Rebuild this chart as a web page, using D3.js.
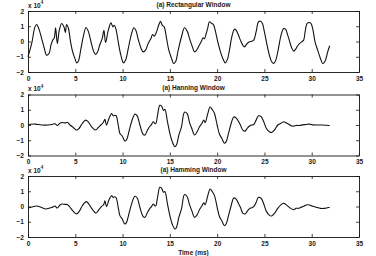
<!DOCTYPE html>
<html>
<head>
<meta charset="utf-8">
<script src="https://cdn.jsdelivr.net/npm/d3@7"></script>
<style>
  body { margin: 0; background: #fff; }
  svg text { font-family: "Liberation Sans", Arial, sans-serif; fill: #1a1a1a; font-weight: bold; }
</style>
</head>
<body>
<svg width="376" height="256"></svg>
<script>
// panel titles, axis ticks
const titles = ["(a) Rectangular Window", "(a) Hanning Window", "(a) Hamming Window"];
const xTicks = [0, 5, 10, 15, 20, 25, 30, 35];
const yTicks = [-2, -1, 0, 1, 2];
const xLabel = "Time (ms)";
const scaleExp = "4";

// [time in ms, amplitude / 1e4]
const rectangular = [
  [0, -1.0], [0.39, -0.13], [0.74, 0.96], [0.92, 1.11], [1.16, 0.81], [1.44, 0.2],
  [1.73, -0.46], [1.97, -0.9], [2.22, -0.79], [2.43, -0.24], [2.61, 0.09], [2.78, 0.24],
  [2.92, 0.9], [3.1, -0.13], [3.31, 0.74], [3.56, 1.18], [3.8, 0.96], [3.95, 0.6],
  [4.08, 1.11], [4.26, 0.9], [4.5, -0.02], [4.72, -0.68], [4.96, -1.11], [5.14, -1.4],
  [5.32, -1.29], [5.6, -0.46], [5.88, 0.42], [6.13, 0.92], [6.37, 0.68], [6.62, 0.09],
  [6.9, -0.57], [7.15, -0.85], [7.36, -0.68], [7.6, -0.2], [7.85, 0.2], [8.03, 0.74],
  [8.2, -0.07], [8.49, 0.74], [8.77, 1.22], [8.98, 0.96], [9.12, 1.07], [9.3, 0.81],
  [9.54, -0.02], [9.82, -0.9], [10.1, -1.4], [10.32, -1.22], [10.6, -0.46], [10.95, 0.52],
  [11.2, 0.9], [11.4, 0.74], [11.65, 0.15], [11.94, -0.42], [12.18, -0.68], [12.43, -0.57],
  [12.71, -0.13], [13.0, 0.2], [13.17, 0.46], [13.35, 0.35], [13.59, 0.63], [13.84, 1.11],
  [14.01, 1.33], [14.19, 1.07], [14.4, 0.96], [14.65, 0.2], [14.89, -0.57], [15.18, -1.11],
  [15.39, -1.44], [15.6, -1.33], [15.88, -0.57], [16.23, 0.31], [16.55, 0.9], [16.83, 0.68],
  [17.08, 0.2], [17.32, -0.24], [17.61, -0.68], [17.78, -0.61], [18.03, -0.35], [18.31, -0.02],
  [18.52, 0.24], [18.66, 0.18], [18.84, 0.52], [19.01, 0.9], [19.19, 1.29], [19.44, 1.18],
  [19.61, 1.11], [19.79, 0.74], [20.07, -0.02], [20.35, -0.68], [20.6, -1.11], [20.85, -1.4],
  [21.06, -1.22], [21.3, -0.57], [21.55, 0.31], [21.83, 0.81], [22.0, 0.74], [22.25, 0.42],
  [22.46, 0.09], [22.71, -0.24], [22.89, -0.35], [23.17, -0.13], [23.42, -0.02], [23.66, 0.02],
  [23.87, 0.09], [24.12, 0.63], [24.37, 1.29], [24.58, 1.33], [24.79, 1.18], [25.0, 0.63],
  [25.28, -0.24], [25.53, -0.9], [25.77, -1.33], [25.99, -1.44], [26.2, -1.22], [26.48, -0.46],
  [26.76, 0.42], [27.04, 0.85], [27.25, 0.79], [27.46, 0.42], [27.68, -0.02], [27.89, -0.42],
  [28.1, -0.63], [28.35, -0.46], [28.52, -0.28], [28.73, -0.13], [28.94, -0.02], [29.15, 0.09],
  [29.3, 0.63], [29.51, 1.18], [29.75, 1.25], [29.93, 1.18], [30.14, 0.74], [30.35, -0.02],
  [30.63, -0.57], [30.92, -1.11], [31.16, -1.44], [31.41, -1.29], [31.69, -0.68], [31.9, -0.28]
];

const hanning = [
  [0, 0.03], [0.74, 0.06], [1.44, 0], [2.15, 0], [2.5, 0.03], [2.85, 0.08], [3.1, -0.03],
  [3.38, 0.12], [3.63, 0.16], [3.9, 0.14], [4.19, 0.16], [4.44, 0], [4.79, -0.16], [5.14, -0.33],
  [5.39, -0.23], [5.74, 0.1], [6.09, 0.32], [6.37, 0.21], [6.73, -0.12], [7.15, -0.33],
  [7.43, -0.16], [7.71, 0], [7.96, 0.16], [8.13, 0.38], [8.3, 0], [8.56, 0.42], [8.84, 0.75],
  [9.0, 0.6], [9.19, 0.64], [9.33, 0.6], [9.54, 0], [9.72, -0.55], [9.96, -0.72], [10.25, -1.05],
  [10.42, -0.98], [10.67, -0.44], [10.95, 0.21], [11.3, 0.71], [11.55, 0.6], [11.83, 0],
  [12.18, -0.61], [12.36, -0.66], [12.64, -0.33], [12.89, -0.08], [13.06, 0.03], [13.24, 0.21],
  [13.49, 0.08], [13.7, 0.64], [13.94, 1.29], [14.12, 1.25], [14.33, 0.96], [14.47, 1.03],
  [14.75, 0.21], [15.0, -0.55], [15.25, -1.09], [15.53, -1.42], [15.7, -1.31], [15.95, -0.66],
  [16.23, -0.12], [16.55, 0.84], [16.83, 0.75], [17.08, 0.16], [17.32, -0.23], [17.61, -0.66],
  [17.89, -0.44], [18.13, -0.12], [18.38, 0.1], [18.59, 0.32], [18.73, 0.16], [19.01, 0.75],
  [19.26, 1.18], [19.47, 1.03], [19.72, 0.75], [20.0, 0], [20.25, -0.61], [20.49, -0.87],
  [20.77, -1.2], [20.95, -1.09], [21.2, -0.55], [21.48, 0.1], [21.76, 0.53], [22.0, 0.47],
  [22.25, 0.25], [22.46, 0], [22.71, -0.33], [22.96, -0.4], [23.17, -0.23], [23.42, -0.07],
  [23.66, 0], [23.87, 0.03], [24.12, 0.32], [24.37, 0.6], [24.65, 0.55], [24.93, 0.21],
  [25.21, -0.23], [25.53, -0.44], [25.77, -0.49], [26.06, -0.33], [26.41, 0], [26.76, 0.12],
  [27.04, 0.21], [27.29, 0.14], [27.54, 0.06], [27.82, -0.05], [28.1, -0.07], [28.35, -0.03],
  [28.7, -0.03], [29.05, 0.01], [29.4, 0.03], [29.75, 0.06], [30.11, 0.01], [30.63, 0],
  [31.16, 0], [31.9, -0.03]
];

const hamming = [
  [0, -0.1], [0.39, -0.03], [0.92, 0.03], [1.37, -0.05], [1.87, -0.16], [2.22, -0.12],
  [2.57, -0.05], [2.85, 0.03], [3.1, -0.1], [3.38, 0.1], [3.63, 0.16], [3.9, 0.14], [4.19, 0.12],
  [4.44, -0.05], [4.79, -0.32], [5.14, -0.49], [5.42, -0.32], [5.74, 0.05], [6.16, 0.32],
  [6.44, 0.16], [6.73, -0.12], [7.18, -0.43], [7.5, -0.21], [7.78, 0.01], [8.0, 0.12],
  [8.13, 0.38], [8.3, -0.01], [8.56, 0.43], [8.84, 0.71], [9.0, 0.6], [9.19, 0.64], [9.33, 0.56],
  [9.54, -0.05], [9.72, -0.6], [9.96, -0.82], [10.25, -1.15], [10.42, -1.04], [10.67, -0.49],
  [10.95, 0.16], [11.3, 0.67], [11.55, 0.56], [11.83, -0.05], [12.18, -0.67], [12.36, -0.71],
  [12.64, -0.38], [12.89, -0.12], [13.06, -0.01], [13.24, 0.16], [13.49, 0.03], [13.7, 0.6],
  [13.94, 1.26], [14.12, 1.21], [14.33, 0.93], [14.47, 0.98], [14.75, 0.16], [15.0, -0.6],
  [15.25, -1.15], [15.53, -1.48], [15.7, -1.37], [15.95, -0.71], [16.23, -0.16], [16.55, 0.78],
  [16.83, 0.64], [17.08, 0.12], [17.32, -0.27], [17.61, -0.71], [17.89, -0.54], [18.13, -0.21],
  [18.38, 0.03], [18.59, 0.25], [18.73, 0.12], [19.01, 0.71], [19.26, 1.15], [19.47, 0.99],
  [19.72, 0.71], [20.0, -0.05], [20.25, -0.67], [20.49, -0.93], [20.77, -1.26], [20.95, -1.15],
  [21.2, -0.6], [21.48, 0.05], [21.76, 0.56], [22.0, 0.49], [22.25, 0.21], [22.46, -0.05],
  [22.71, -0.43], [22.96, -0.49], [23.17, -0.32], [23.42, -0.14], [23.66, -0.08], [23.87, -0.01],
  [24.12, 0.27], [24.37, 0.6], [24.65, 0.54], [24.93, 0.16], [25.21, -0.32], [25.53, -0.58],
  [25.77, -0.62], [26.06, -0.45], [26.41, -0.12], [26.76, 0.12], [27.04, 0.21], [27.29, 0.12],
  [27.54, -0.01], [27.82, -0.14], [28.1, -0.21], [28.35, -0.12], [28.6, -0.12], [28.87, -0.05],
  [29.15, 0.01], [29.4, 0.1], [29.75, 0.1], [30.11, 0.01], [30.46, -0.05], [30.92, -0.12],
  [31.34, -0.12], [31.9, -0.05]
];

const series = [rectangular, hanning, hamming];

// layout
const plotLeft = 28, plotRight = 359;
const panelTops = [11, 94.5, 176];
const panelH = 61;

const svg = d3.select("svg");

const x = d3.scaleLinear().domain([0, 35]).range([plotLeft, plotRight]);

const line = d3.line()
  .x(d => x(d[0]))
  .curve(d3.curveCatmullRom.alpha(0.5));

series.forEach((data, i) => {
  const top = panelTops[i];
  const y = d3.scaleLinear().domain([-2, 2]).range([top + panelH, top]);
  const g = svg.append("g");

  // axes, MATLAB-style inward ticks on all four sides
  const styleAxis = sel => {
    sel.select(".domain").attr("stroke", "#111").attr("stroke-width", 0.9);
    sel.selectAll(".tick line").attr("stroke", "#111").attr("stroke-width", 0.8);
    sel.selectAll("text").attr("font-size", 6.5).attr("fill", "#1a1a1a").attr("font-family", null);
  };

  g.append("g")
    .attr("transform", `translate(0,${top + panelH})`)
    .call(d3.axisBottom(x).tickValues(xTicks).tickSize(-3).tickSizeOuter(0).tickPadding(4)
      .tickFormat(d3.format("d")))
    .call(styleAxis);

  g.append("g")
    .attr("transform", `translate(0,${top})`)
    .call(d3.axisTop(x).tickValues(xTicks).tickSize(-3).tickSizeOuter(0).tickFormat(""))
    .call(styleAxis);

  g.append("g")
    .attr("transform", `translate(${plotLeft},0)`)
    .call(d3.axisLeft(y).tickValues(yTicks).tickSize(-3).tickSizeOuter(0).tickPadding(4)
      .tickFormat(d3.format("d")))
    .call(styleAxis);

  g.append("g")
    .attr("transform", `translate(${plotRight},0)`)
    .call(d3.axisRight(y).tickValues(yTicks).tickSize(-3).tickSizeOuter(0).tickFormat(""))
    .call(styleAxis);

  // signal
  g.append("path")
    .datum(data)
    .attr("fill", "none")
    .attr("stroke", "#111")
    .attr("stroke-width", 1.1)
    .attr("stroke-linejoin", "round")
    .attr("d", line.y(d => y(d[1])));

  // title
  g.append("text")
    .attr("x", (plotLeft + plotRight) / 2)
    .attr("y", top - 4.5)
    .attr("text-anchor", "middle")
    .attr("font-size", 6.5)
    .text(titles[i]);

  // exponent label
  const ex = g.append("text")
    .attr("x", plotLeft)
    .attr("y", top - 3.5)
    .attr("font-size", 6.5)
    .text("x 10");
  ex.append("tspan")
    .attr("dy", -3.5)
    .attr("font-size", 4.5)
    .text(scaleExp);
});

svg.append("text")
  .attr("x", (plotLeft + plotRight) / 2)
  .attr("y", 255)
  .attr("text-anchor", "middle")
  .attr("font-size", 6.5)
  .text(xLabel);
</script>
</body>
</html>
